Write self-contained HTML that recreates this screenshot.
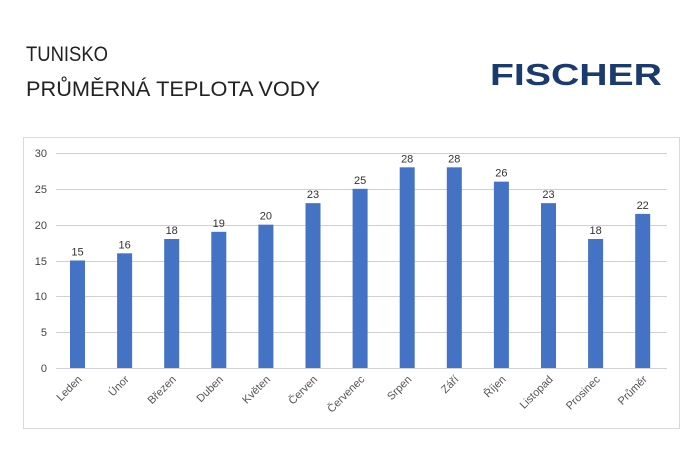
<!DOCTYPE html>
<html><head><meta charset="utf-8"><style>
body{margin:0;width:700px;height:450px;background:#fff;overflow:hidden;font-family:"Liberation Sans",sans-serif}
</style></head><body>
<svg width="700" height="450" xmlns="http://www.w3.org/2000/svg" font-family="Liberation Sans, sans-serif">
<text x="26" y="61" font-size="21" fill="#222" textLength="82" lengthAdjust="spacingAndGlyphs">TUNISKO</text>
<text x="26" y="96" font-size="21" fill="#222" textLength="294" lengthAdjust="spacingAndGlyphs">PRŮMĚRNÁ TEPLOTA VODY</text>
<text x="490" y="85" font-size="31" font-weight="bold" fill="#1b3a6e" textLength="172" lengthAdjust="spacingAndGlyphs">FISCHER</text>
<rect x="23.5" y="137.5" width="656" height="291" fill="#fff" stroke="#d9d9d9"/>
<g stroke="#d0d0d0" stroke-width="1">
<line x1="56" x2="667" y1="153.5" y2="153.5"/>
<line x1="56" x2="667" y1="189.5" y2="189.5"/>
<line x1="56" x2="667" y1="225.5" y2="225.5"/>
<line x1="56" x2="667" y1="261.5" y2="261.5"/>
<line x1="56" x2="667" y1="296.5" y2="296.5"/>
<line x1="56" x2="667" y1="332.5" y2="332.5"/>
<line x1="56" x2="667" y1="368.5" y2="368.5"/>
</g>
<g font-size="11" fill="#444" text-anchor="end">
<text x="47" y="157">30</text><text x="47" y="193">25</text><text x="47" y="229">20</text>
<text x="47" y="265">15</text><text x="47" y="300">10</text><text x="47" y="336">5</text><text x="47" y="372">0</text>
</g>
<g id="bars" fill="#4472c4"></g>
<g id="vals" font-size="11" fill="#333" text-anchor="middle"></g>
<g id="labs" font-size="11" fill="#555" text-anchor="end"></g>
<script>
var names=["Leden","Únor","Březen","Duben","Květen","Červen","Červenec","Srpen","Září","Říjen","Listopad","Prosinec","Průměr"];
var v=[15,16,18,19,20,23,25,28,28,26,23,18,21.5];
var b=document.getElementById("bars"),t=document.getElementById("vals"),l=document.getElementById("labs");
var ns="http://www.w3.org/2000/svg";
for(var i=0;i<13;i++){var cx=77.5+i*47.1,h=v[i]*7.167;
var r=document.createElementNS(ns,"rect");r.setAttribute("x",cx-7.5);r.setAttribute("y",368-h);r.setAttribute("width",15);r.setAttribute("height",h);b.appendChild(r);
var s=document.createElementNS(ns,"text");s.setAttribute("x",cx);s.setAttribute("y",368-h-5);s.textContent=Math.round(v[i]);t.appendChild(s);
var q=document.createElementNS(ns,"text");q.setAttribute("transform","translate("+(cx+5)+",380) rotate(-45)");q.textContent=names[i];l.appendChild(q);}
</script>
</svg>
</body></html>
